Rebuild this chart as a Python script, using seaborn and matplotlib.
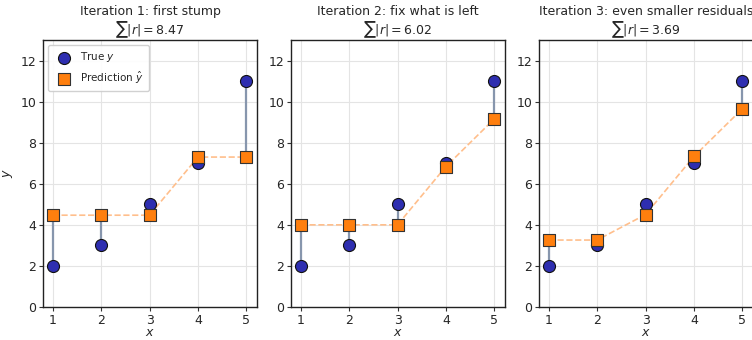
import numpy as np
import pandas as pd
import matplotlib
matplotlib.use("Agg")
import matplotlib.pyplot as plt
import seaborn as sns

x = [1, 2, 3, 4, 5]
y_true = [2, 3, 5, 7, 11]
pred_iter1 = [4.47, 4.47, 4.47, 7.3, 7.3]
pred_iter2 = [4.0, 4.0, 4.0, 6.84, 9.16]
pred_iter3 = [3.26, 3.26, 4.5, 7.33, 9.65]
titles = ["Iteration 1: first stump", "Iteration 2: fix what is left",
          "Iteration 3: even smaller residuals"]
sums = ["8.47", "6.02", "3.69"]

sns.set_style("ticks")
plt.rcParams["font.family"] = ["DejaVu Sans"]
plt.rcParams["font.size"] = 9

fig = plt.figure(figsize=(7.52, 3.4), dpi=100)
lefts = [43 / 752, 291 / 752, 539 / 752]
preds = [pred_iter1, pred_iter2, pred_iter3]

for i, (left, pred) in enumerate(zip(lefts, preds)):
    ax = fig.add_axes([left, 33 / 340, 214 / 752, 267 / 340])
    df = pd.DataFrame({"x": x, "y": y_true, "pred": pred})
    ax.vlines(df["x"], df["y"], df["pred"], color="#8796ad", lw=1.6, zorder=2)
    sns.lineplot(data=df, x="x", y="pred", ax=ax, color="#ffbf8c",
                 linestyle="--", lw=1.2, zorder=2, legend=False)
    sns.scatterplot(data=df, x="x", y="y", ax=ax, color="#2e2eb0", s=75,
                    edgecolor="#111111", linewidth=0.8, zorder=3,
                    label="True $y$")
    sns.scatterplot(data=df, x="x", y="pred", ax=ax, color="#ff7f0e", marker="s",
                    s=75, edgecolor="#333333", linewidth=0.8, zorder=4,
                    label="Prediction $\\hat{y}$")
    ax.set_xlim(0.8, 5.22)
    ax.set_ylim(0, 13)
    ax.set_xticks(x)
    ax.set_yticks([0, 2, 4, 6, 8, 10, 12])
    ax.grid(True, color="#e4e4e4", lw=0.8)
    ax.set_axisbelow(True)
    for sp in ax.spines.values():
        sp.set_color("#222222")
        sp.set_linewidth(1.0)
    ax.tick_params(labelsize=9, length=3, color="#333333", pad=2)
    ax.set_title(titles[i] + "\n$\\sum|r| = $" + sums[i], fontsize=9, pad=4,
                 linespacing=1.1)
    ax.set_xlabel("$x$", fontsize=9, labelpad=-1)
    if i == 0:
        ax.set_ylabel("$y$", fontsize=9, labelpad=4)
        ax.legend(loc="upper left", fontsize=7.5, frameon=True,
                  borderpad=0.5, handletextpad=0.6, framealpha=0.9)
    else:
        ax.set_ylabel("")
        ax.legend().remove()

fig.savefig("out.png", dpi=100)
